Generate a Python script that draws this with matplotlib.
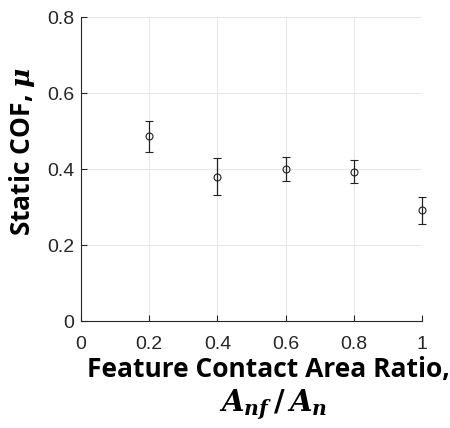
import matplotlib

matplotlib.use("Agg")
import matplotlib.pyplot as plt

# Static coefficient of friction against feature contact area ratio
area_ratio = [0.2, 0.4, 0.6, 0.8, 1.0]
cof_mean = [0.487, 0.380, 0.400, 0.393, 0.292]
cof_lower = [0.446, 0.331, 0.369, 0.363, 0.256]
cof_upper = [0.527, 0.429, 0.432, 0.423, 0.327]

xticks = [0, 0.2, 0.4, 0.6, 0.8, 1.0]
xtick_labels = ["0", "0.2", "0.4", "0.6", "0.8", "1"]
yticks = [0, 0.2, 0.4, 0.6, 0.8]
ytick_labels = ["0", "0.2", "0.4", "0.6", "0.8"]

plt.rcParams["mathtext.fontset"] = "custom"
plt.rcParams["mathtext.it"] = "DejaVu Serif:italic:bold"
plt.rcParams["mathtext.rm"] = "DejaVu Serif:bold"

fig = plt.figure(figsize=(4.5, 4.28), dpi=100)
ax = fig.add_axes([81 / 450, 1 - 321 / 428, 341 / 450, 304 / 428])

yerr = [[m - lo for m, lo in zip(cof_mean, cof_lower)],
        [hi - m for m, hi in zip(cof_mean, cof_upper)]]
ax.errorbar(area_ratio, cof_mean, yerr=yerr, fmt="o", color="#222222",
            mfc="none", mec="#222222", ms=5, mew=0.8, elinewidth=0.9,
            capsize=3, capthick=0.9, zorder=3, clip_on=False)

ax.set_xlim(0, 1)
ax.set_ylim(0, 0.8)
ax.set_xticks(xticks)
ax.set_xticklabels(xtick_labels)
ax.set_yticks(yticks)
ax.set_yticklabels(ytick_labels)
ax.grid(True, color="#e6e6e6", linewidth=0.7)
ax.set_axisbelow(True)
for side in ["top", "right"]:
    ax.spines[side].set_visible(False)
for side in ["left", "bottom"]:
    ax.spines[side].set_color("#262626")
    ax.spines[side].set_linewidth(0.8)
ax.tick_params(direction="in", length=4, width=0.8, color="#262626",
               labelsize=14, labelcolor="#262626")
ax.tick_params(axis="x", pad=11)
ax.tick_params(axis="y", pad=5)
for lab in ax.get_xticklabels() + ax.get_yticklabels():
    lab.set_family("Liberation Sans")

fig.text(22 / 450, 1 - 152 / 428, r"Static COF, $\mu$", rotation=90,
         ha="center", va="center", fontsize=19, fontweight="bold",
         family="Open Sans")

fig.text(268 / 450, 1 - 369 / 428, "Feature Contact Area Ratio,",
         ha="center", va="center", fontsize=19, fontweight="bold",
         family="Open Sans")
fig.text(273 / 450, 1 - 405 / 428, r"$A_{nf}\,/\,A_n$",
         ha="center", va="center", fontsize=21)

fig.savefig("out.png", dpi=100)
